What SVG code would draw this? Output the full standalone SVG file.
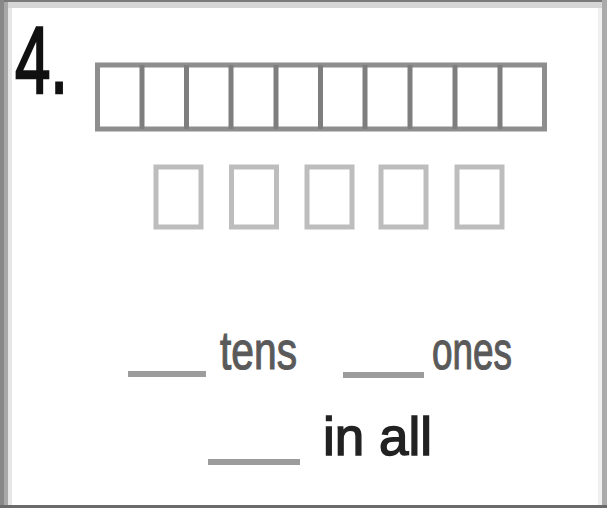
<svg xmlns="http://www.w3.org/2000/svg" width="607" height="508" viewBox="0 0 607 508">
  <style>
    .frame { fill: none; stroke: #8e8e8e; stroke-width: 5; }
    .div { stroke: #7e7e7e; stroke-width: 5; }
    .box { fill: none; stroke: #bdbdbd; stroke-width: 5; }
    .blank { stroke: #9c9c9c; stroke-width: 6; }
    .lbl { font-family: "Liberation Sans", Arial, sans-serif; font-size: 54px; }
  </style>
  <rect x="0" y="0" width="607" height="508" fill="#ffffff"/>
  <g id="border">
    <rect x="0" y="0" width="607" height="2" fill="#7a7a7a"/>
    <rect x="0" y="2" width="607" height="6" fill="#d6d6d6"/>
    <rect x="8" y="8" width="4" height="500" fill="#e6e6e6"/>
    <rect x="0" y="0" width="4" height="508" fill="#888888"/>
    <rect x="4" y="2" width="4" height="506" fill="#a8a8a8"/>
    <rect x="598" y="8" width="4" height="498" fill="#f0f0f0"/>
    <rect x="602" y="0" width="5" height="508" fill="#aaaaaa"/>
    <rect x="0" y="505" width="607" height="3" fill="#6a6a6a"/>
  </g>
  <g id="number">
    <text x="15" y="93" font-family="'Liberation Sans', Arial, sans-serif" font-size="94" fill="#111111" stroke="#111111" stroke-width="2.5" textLength="53" lengthAdjust="spacingAndGlyphs">4.</text>
  </g>
  <g id="ten-frame">
    <rect class="frame" x="97.5" y="65" width="447" height="64"/>
    <line class="div" x1="142" y1="65" x2="142" y2="129"/>
    <line class="div" x1="186.5" y1="65" x2="186.5" y2="129"/>
    <line class="div" x1="231" y1="65" x2="231" y2="129"/>
    <line class="div" x1="276" y1="65" x2="276" y2="129"/>
    <line class="div" x1="320.5" y1="65" x2="320.5" y2="129"/>
    <line class="div" x1="365" y1="65" x2="365" y2="129"/>
    <line class="div" x1="410" y1="65" x2="410" y2="129"/>
    <line class="div" x1="455" y1="65" x2="455" y2="129"/>
    <line class="div" x1="500" y1="65" x2="500" y2="129"/>
  </g>
  <g id="five-boxes">
    <rect class="box" x="156" y="167" width="45" height="60"/>
    <rect class="box" x="231.5" y="167" width="45" height="60"/>
    <rect class="box" x="307" y="167" width="45" height="60"/>
    <rect class="box" x="381" y="167" width="45" height="60"/>
    <rect class="box" x="457" y="167" width="45" height="60"/>
  </g>
  <g id="tens">
    <line class="blank" x1="128" y1="374" x2="206" y2="374"/>
    <text class="lbl" x="220" y="369" fill="#5a5a5a" stroke="#5a5a5a" stroke-width="1.2" textLength="77" lengthAdjust="spacingAndGlyphs">tens</text>
  </g>
  <g id="ones">
    <line class="blank" x1="343" y1="375" x2="424" y2="375"/>
    <text class="lbl" x="432" y="369" fill="#5a5a5a" stroke="#5a5a5a" stroke-width="1.2" textLength="80" lengthAdjust="spacingAndGlyphs">ones</text>
  </g>
  <g id="in-all">
    <line class="blank" x1="208" y1="462" x2="300" y2="462" stroke-width="7"/>
    <text class="lbl" x="323" y="455" font-size="60" fill="#222222" stroke="#222222" stroke-width="1.5" textLength="109" lengthAdjust="spacingAndGlyphs">in all</text>
  </g>
</svg>
